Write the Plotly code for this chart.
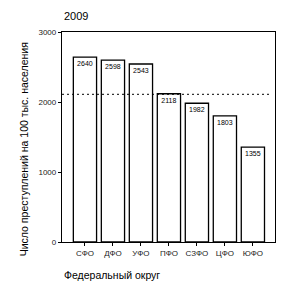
import plotly.graph_objects as go

categories = ["СФО", "ДФО", "УФО", "ПФО", "СЗФО", "ЦФО", "ЮФО"]
values = [2640, 2598, 2543, 2118, 1982, 1803, 1355]
mean_value = 2110
y_ticks = [0, 1000, 2000, 3000]

FONT = "Liberation Sans, Arial, sans-serif"

fig = go.Figure()
fig.add_trace(go.Bar(
    x=list(range(len(categories))), y=values,
    width=0.83,
    marker=dict(color="white", line=dict(color="black", width=1.3)),
    text=[str(v) for v in values],
    textposition="inside", insidetextanchor="end",
    textfont=dict(size=7, color="black", family=FONT),
    textangle=0,
    cliponaxis=False,
))
fig.add_shape(type="line", xref="paper", yref="y", x0=0, x1=0.985,
              y0=mean_value, y1=mean_value,
              line=dict(color="black", width=1, dash="2px,3px"))

fig.update_layout(
    width=289, height=294,
    margin=dict(l=62, r=14, t=32, b=52),
    paper_bgcolor="white", plot_bgcolor="white",
    showlegend=False,
    font=dict(family=FONT, color="black"),
    uniformtext=dict(minsize=7, mode="show"),
    xaxis=dict(
        range=[-0.82, 6.79],
        tickmode="array", tickvals=list(range(len(categories))), ticktext=categories,
        tickfont=dict(size=8, color="#222"),
        ticks="outside", ticklen=3, tickcolor="black",
        showline=True, linecolor="black", linewidth=1.3, mirror=True,
        showgrid=False, zeroline=False,
    ),
    yaxis=dict(
        range=[0, 3000],
        tickmode="array", tickvals=y_ticks,
        tickfont=dict(size=8, color="#222"),
        ticks="outside", ticklen=3, tickcolor="black",
        showline=True, linecolor="black", linewidth=1.3, mirror=True,
        showgrid=False, zeroline=False,
    ),
    annotations=[
        dict(text="2009", xref="paper", yref="paper", x=0, y=1.04,
             xanchor="left", yanchor="bottom", showarrow=False,
             font=dict(size=11, family=FONT, color="black")),
        dict(text="Число преступлений на 100 тыс. населения", xref="paper", yref="paper",
             x=-0.18, y=0.44, xanchor="center", yanchor="middle", textangle=-90,
             showarrow=False, font=dict(size=10.5, family=FONT, color="black")),
        dict(text="Федеральный округ", xref="paper", yref="paper",
             x=0, y=-0.12, xanchor="left", yanchor="top", showarrow=False,
             font=dict(size=10.5, family=FONT, color="black")),
    ],
)

fig.write_html("out.html")
